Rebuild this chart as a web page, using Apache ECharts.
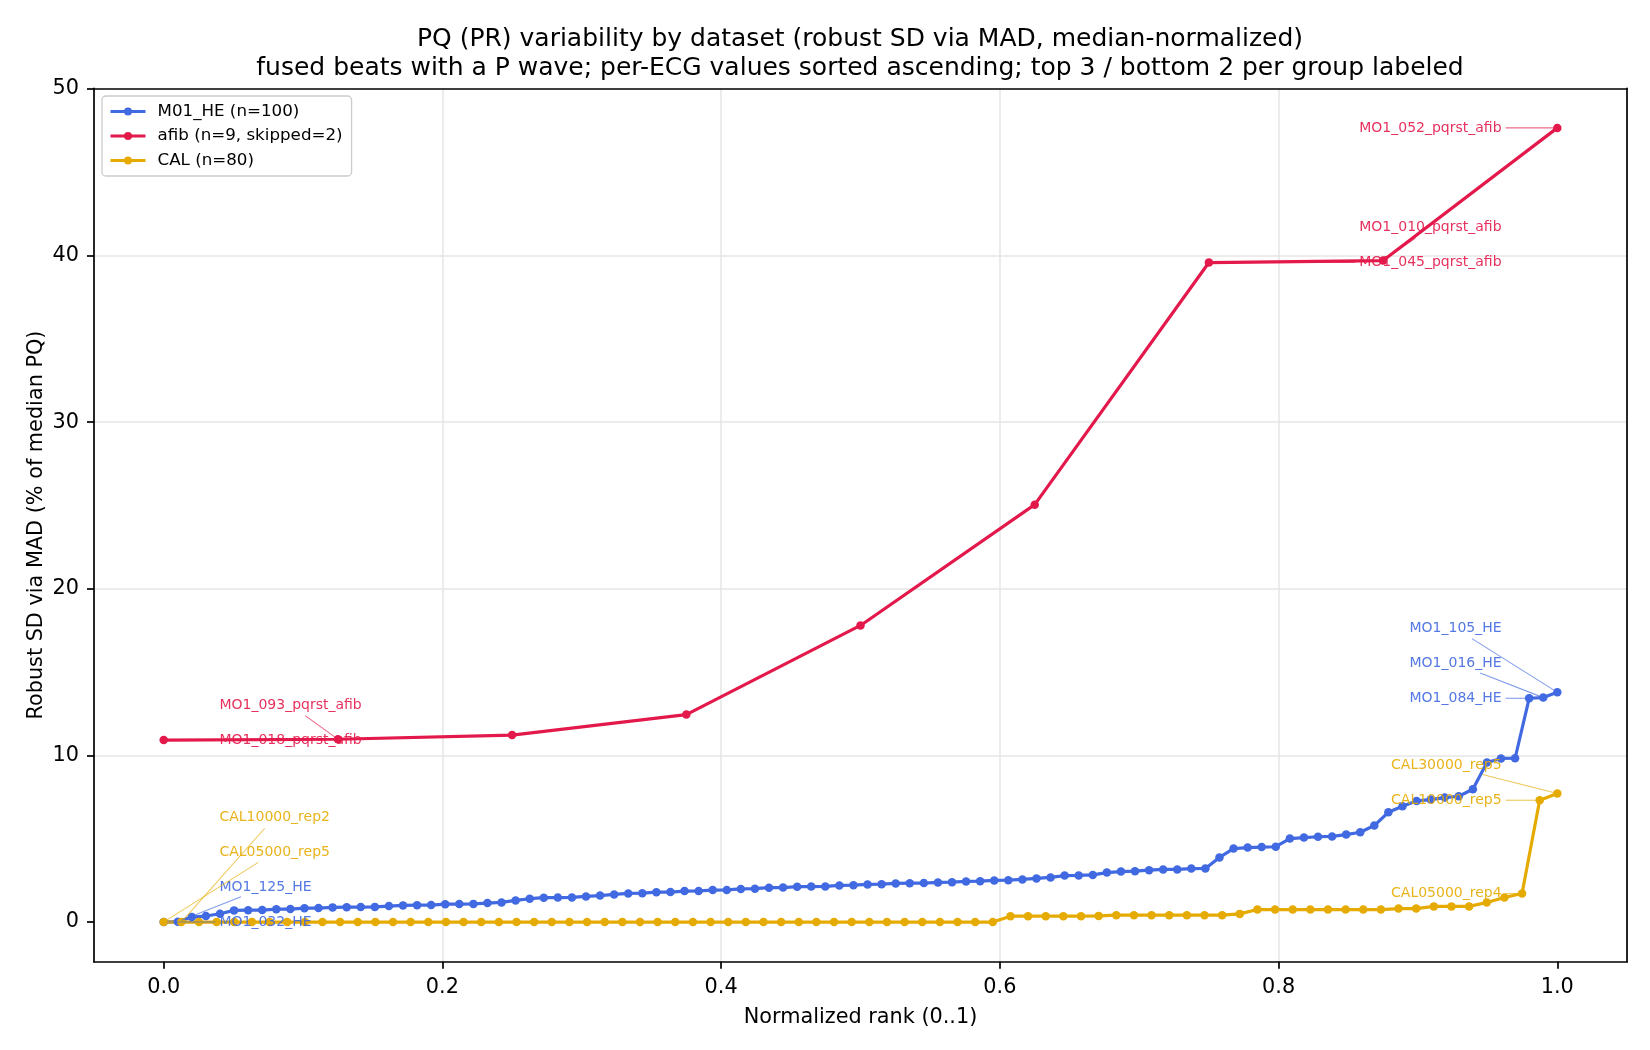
<!DOCTYPE html>
<html>
<head>
<meta charset="utf-8">
<title>PQ variability</title>
<script src="https://cdn.jsdelivr.net/npm/echarts@6.0.0/dist/echarts.min.js"></script>
<style>
    html, body { margin: 0; padding: 0; background: #fff; }
    #main { width: 1650px; height: 1050px; }
</style>
</head>
<body>
<div id="main"></div>
<script>
// per-ECG robust SD values, sorted ascending
var heName = 'M01_HE (n=100)';
var heValues = [
    0.00, 0.02, 0.30, 0.36, 0.50, 0.70, 0.71, 0.72, 0.77, 0.78,
    0.83, 0.84, 0.88, 0.89, 0.90, 0.91, 0.96, 1.00, 1.01, 1.02,
    1.07, 1.08, 1.09, 1.14, 1.18, 1.30, 1.40, 1.46, 1.47, 1.48,
    1.54, 1.59, 1.66, 1.72, 1.73, 1.79, 1.80, 1.86, 1.87, 1.92,
    1.93, 1.99, 2.00, 2.06, 2.07, 2.12, 2.13, 2.14, 2.20, 2.21,
    2.26, 2.27, 2.32, 2.33, 2.34, 2.38, 2.39, 2.44, 2.45, 2.50,
    2.51, 2.56, 2.62, 2.68, 2.79, 2.80, 2.83, 2.97, 3.03, 3.05,
    3.11, 3.16, 3.16, 3.21, 3.22, 3.88, 4.41, 4.47, 4.50, 4.52,
    5.01, 5.07, 5.12, 5.14, 5.25, 5.39, 5.79, 6.59, 6.95, 7.27,
    7.35, 7.47, 7.55, 7.97, 9.57, 9.82, 9.83, 13.43, 13.47, 13.79
];

var afibName = 'afib (n=9, skipped=2)';
var afibValues = [10.92, 10.97, 11.22, 12.45, 17.80, 25.05, 39.58, 39.70, 47.66];

var calName = 'CAL (n=80)';
var calValues = [
    0, 0, 0, 0, 0, 0, 0, 0, 0, 0,
    0, 0, 0, 0, 0, 0, 0, 0, 0, 0,
    0, 0, 0, 0, 0, 0, 0, 0, 0, 0,
    0, 0, 0, 0, 0, 0, 0, 0, 0, 0,
    0, 0, 0, 0, 0, 0, 0, 0, 0.35, 0.35,
    0.35, 0.35, 0.35, 0.37, 0.41, 0.41, 0.41, 0.41, 0.41, 0.41,
    0.41, 0.49, 0.75, 0.75, 0.75, 0.75, 0.75, 0.75, 0.75, 0.75,
    0.81, 0.81, 0.94, 0.94, 0.94, 1.17, 1.47, 1.71, 7.31, 7.72
];

// labeled ECGs: [name, group, index]  (bottom-up order on each side)
var leftLabels = [
    ['MO1_032_HE', 'he', 0],
    ['MO1_125_HE', 'he', 1],
    ['CAL05000_rep5', 'cal', 0],
    ['CAL10000_rep2', 'cal', 1],
    ['MO1_018_pqrst_afib', 'afib', 0],
    ['MO1_093_pqrst_afib', 'afib', 1]
];
var rightLabels = [
    ['CAL05000_rep4', 'cal', 77],
    ['CAL10000_rep5', 'cal', 78],
    ['CAL30000_rep5', 'cal', 79],
    ['MO1_084_HE', 'he', 97],
    ['MO1_016_HE', 'he', 98],
    ['MO1_105_HE', 'he', 99],
    ['MO1_045_pqrst_afib', 'afib', 6],
    ['MO1_010_pqrst_afib', 'afib', 7],
    ['MO1_052_pqrst_afib', 'afib', 8]
];

var xTicks = [0, 0.2, 0.4, 0.6, 0.8, 1.0];
var yTicks = [0, 10, 20, 30, 40, 50];

var FONT = '"DejaVu Sans", "Liberation Sans", sans-serif';
var colors = { he: '#4169e1', afib: '#e3194b', cal: '#e6ab02' };
var groups = { he: heValues, afib: afibValues, cal: calValues };
var LABEL_SIZE = 14;
var LABEL_GAP = 2.1;   // min vertical spacing of labels, data units

function toPoints(values) {
    var n = values.length;
    return values.map(function (v, i) { return [i / (n - 1), v]; });
}

// stack label positions so they do not overlap
var labels = [];
function placeLabels(list, side, xText) {
    var prev = -Infinity;
    list.forEach(function (l) {
        var vals = groups[l[1]];
        var px = l[2] / (vals.length - 1), py = vals[l[2]];
        var ty = Math.max(py, prev + LABEL_GAP);
        prev = ty;
        labels.push({ name: l[0], color: colors[l[1]], side: side, data: [xText, ty, px, py] });
    });
}
placeLabels(leftLabels, 'left', 0.04);
placeLabels(rightLabels, 'right', 0.96);

var ctx = document.createElement('canvas').getContext('2d');
ctx.font = LABEL_SIZE + 'px ' + FONT;
function textWidth(s) { return ctx.measureText(s).width; }

function renderLabel(params, api) {
    var lab = labels[params.dataIndex];
    var tp = api.coord([api.value(0), api.value(1)]);
    var pp = api.coord([api.value(2), api.value(3)]);
    var w = textWidth(lab.name), h = LABEL_SIZE * 1.17;
    var cx = lab.side === 'left' ? tp[0] + w / 2 : tp[0] - w / 2;
    var cy = tp[1];
    var dx = pp[0] - cx, dy = pp[1] - cy;
    var len = Math.sqrt(dx * dx + dy * dy);
    var children = [];
    if (len > 0) {
        var tx = dx ? (w / 2) / Math.abs(dx) : Infinity;
        var ty = dy ? (h / 2) / Math.abs(dy) : Infinity;
        var t = Math.min(tx, ty);
        if (t < 1) {
            var ux = dx / len, uy = dy / len;
            var sx = cx + dx * t + ux * 4, sy = cy + dy * t + uy * 4;
            var ex = pp[0] - ux * 4, ey = pp[1] - uy * 4;
            if ((ex - sx) * dx + (ey - sy) * dy > 0) {
                children.push({
                    type: 'line',
                    shape: { x1: sx, y1: sy, x2: ex, y2: ey },
                    style: { stroke: lab.color, lineWidth: 1.1, opacity: 0.65 }
                });
            }
        }
    }
    children.push({
        type: 'text',
        x: tp[0], y: tp[1],
        style: {
            text: lab.name, fill: lab.color, opacity: 0.9,
            fontSize: LABEL_SIZE, fontFamily: FONT,
            align: lab.side, verticalAlign: 'middle'
        }
    });
    return { type: 'group', children: children };
}

function lineSeries(name, values, color) {
    return {
        name: name,
        type: 'line',
        data: toPoints(values),
        symbol: 'circle',
        symbolSize: 8.5,
        showSymbol: true,
        color: color,
        lineStyle: { width: 3.2, color: color },
        itemStyle: { color: color },
        emphasis: { disabled: true },
        animation: false
    };
}

var axisText = { color: '#000', fontSize: 20.8, fontFamily: FONT };
var spine = { show: true, onZero: false, lineStyle: { color: '#000', width: 1.7 } };

var option = {
    backgroundColor: '#fff',
    animation: false,
    title: {
        text: 'PQ (PR) variability by dataset (robust SD via MAD, median-normalized)\n' +
              'fused beats with a P wave; per-ECG values sorted ascending; top 3 / bottom 2 per group labeled',
        left: 860,
        top: 24.5,
        padding: 0,
        textAlign: 'center',
        textStyle: { color: '#000', fontSize: 25, fontWeight: 'normal', fontFamily: FONT, lineHeight: 29.5 }
    },
    legend: {
        data: [heName, afibName, calName],
        orient: 'vertical',
        left: 102,
        top: 96,
        padding: [7, 9, 7, 7],
        itemWidth: 35,
        itemHeight: 10,
        itemGap: 7.5,
        lineStyle: { width: 3 },
        backgroundColor: 'rgba(255,255,255,0.8)',
        borderColor: '#cccccc',
        borderWidth: 1.3,
        borderRadius: 4,
        textStyle: { color: '#000', fontSize: 16.7, fontFamily: FONT, lineHeight: 17, padding: [0, 0, 0, 7] }
    },
    grid: {
        left: 94, top: 88.4, width: 1533, height: 873.3,
        show: false
    },
    xAxis: [{
        type: 'value',
        min: -0.05,
        max: 1.05,
        name: 'Normalized rank (0..1)',
        nameLocation: 'middle',
        nameGap: 45,
        nameTextStyle: axisText,
        axisLine: spine,
        axisTick: { show: true, length: 7, customValues: xTicks, lineStyle: { color: '#000', width: 1.7 } },
        axisLabel: {
            customValues: xTicks, margin: 15,
            formatter: function (v) { return v.toFixed(1); },
            color: '#000', fontSize: 20.8, fontFamily: FONT
        },
        splitLine: { show: true, showMinLine: false, showMaxLine: false, lineStyle: { color: '#e6e6e6', width: 1.5 } }
    }, {
        // top spine
        type: 'value', position: 'top', min: -0.05, max: 1.05, z: 3,
        axisLine: spine, axisTick: { show: false }, axisLabel: { show: false }, splitLine: { show: false }
    }],
    yAxis: [{
        type: 'value',
        min: -2.38,
        max: 50.03,
        name: 'Robust SD via MAD (% of median PQ)',
        nameLocation: 'middle',
        nameGap: 47,
        nameMoveOverlap: false,
        nameTextStyle: axisText,
        axisLine: spine,
        axisTick: { show: true, length: 7, customValues: yTicks, lineStyle: { color: '#000', width: 1.7 } },
        axisLabel: {
            customValues: yTicks, margin: 15,
            formatter: function (v) { return String(Math.round(v)); },
            color: '#000', fontSize: 20.8, fontFamily: FONT
        },
        splitLine: { show: true, showMinLine: false, showMaxLine: false, lineStyle: { color: '#e6e6e6', width: 1.5 } }
    }, {
        // right spine
        type: 'value', position: 'right', min: -2.38, max: 50.03, z: 3,
        axisLine: spine, axisTick: { show: false }, axisLabel: { show: false }, splitLine: { show: false }
    }],
    series: [
        lineSeries(heName, heValues, colors.he),
        lineSeries(afibName, afibValues, colors.afib),
        lineSeries(calName, calValues, colors.cal),
        {
            name: 'labels',
            type: 'custom',
            renderItem: renderLabel,
            data: labels.map(function (l) { return l.data; }),
            clip: false,
            silent: true,
            z: 10,
            animation: false
        }
    ]
};

var myChart = echarts.init(document.getElementById('main'), null, { renderer: 'canvas' });
myChart.setOption(option);
</script>
</body>
</html>
